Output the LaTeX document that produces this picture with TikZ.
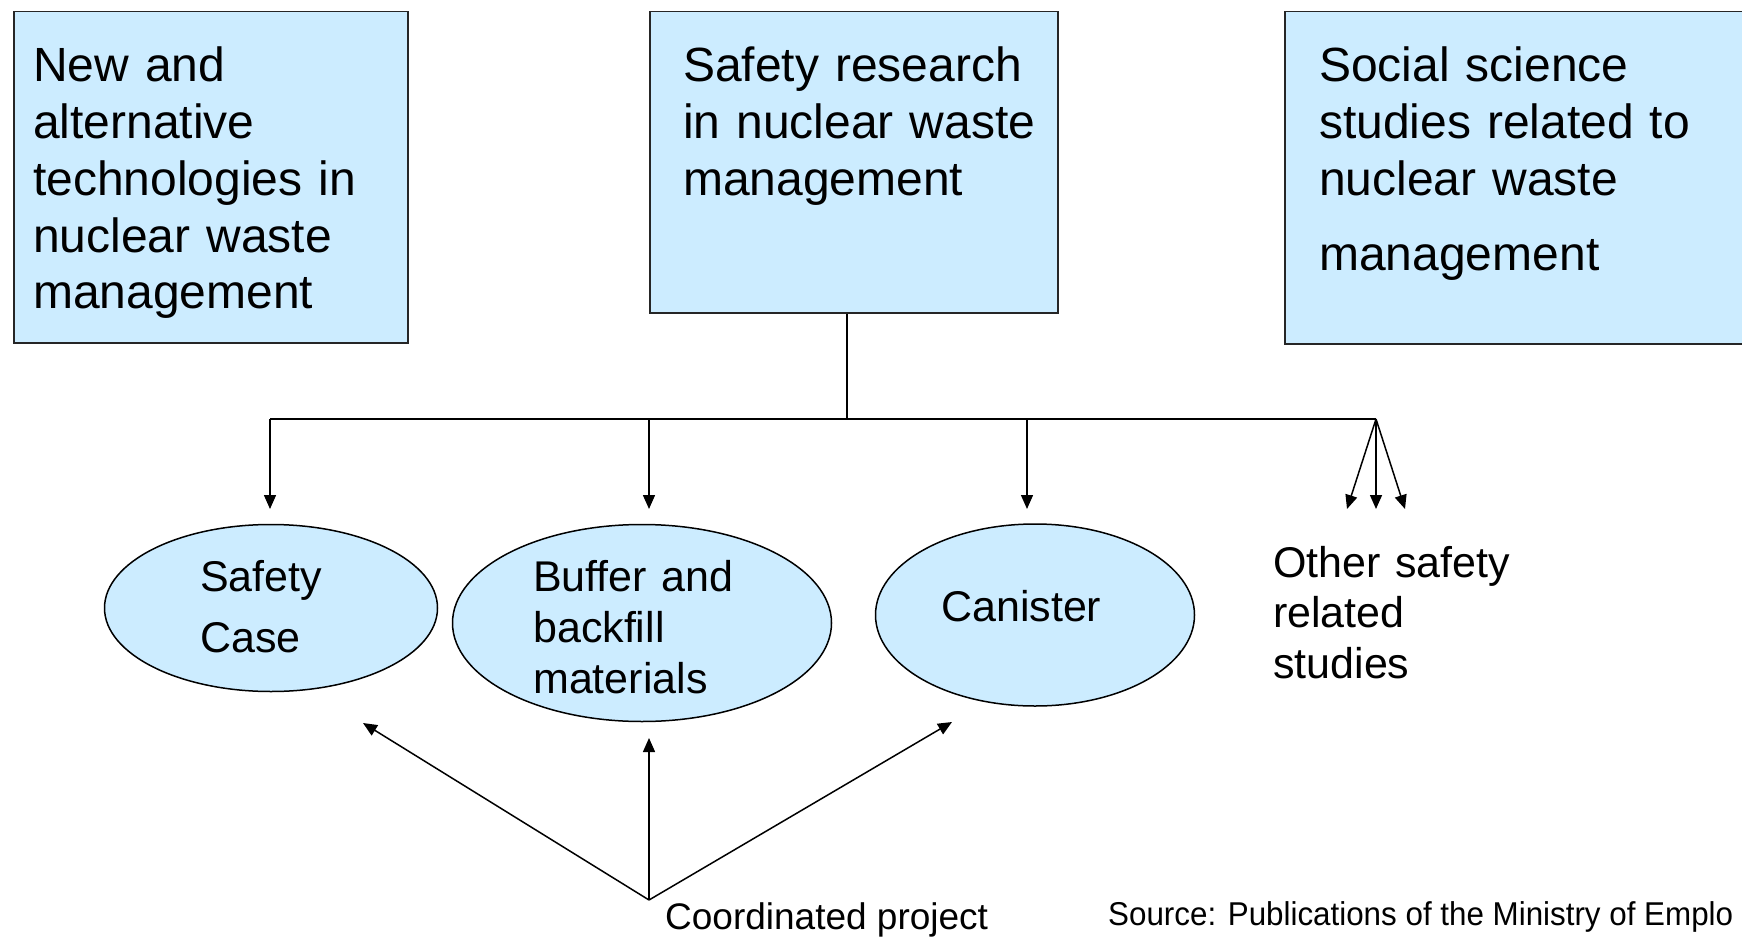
\documentclass[tikz,border=0pt]{standalone}
\usepackage{fontspec}
\setmainfont{Liberation Sans}
\usetikzlibrary{arrows.meta,shapes.geometric}
\definecolor{boxfill}{RGB}{204,236,255}
\begin{document}
\begin{tikzpicture}[x=1pt,y=-1pt,
  box/.style={draw=black!85, line width=1.5pt, fill=boxfill, anchor=north west, inner sep=0pt},
  oval/.style={ellipse, draw=black, line width=1.5pt, fill=boxfill, inner sep=0pt},
  bigtext/.style={anchor=base west, inner sep=0pt, text width=460pt, align=left, font=\fontsize{48}{56.7}\selectfont},
  midtext/.style={anchor=base west, inner sep=0pt, text width=300pt, align=left, font=\fontsize{43}{51}\selectfont},
  conn/.style={line width=1.5pt},
  arr/.style={conn, -{Triangle[length=14pt,width=12pt]}}]
\useasboundingbox (0,0) rectangle (1742,939);
\clip (0,0) rectangle (1742,939);
% boxes
\node[box, minimum width=394pt, minimum height=331pt] (b1) at (13,11) {};
\node[box, minimum width=408pt, minimum height=301pt] (b2) at (649,11) {};
\node[box, minimum width=520pt, minimum height=332pt] (b3) at (1284,11) {};
\node[bigtext] (t1) at (33,82) {New and\\alternative\\technologies in\\nuclear waste\\management};
\node[bigtext] (t2) at (683,82) {Safety research\\in nuclear waste\\management};
\node[bigtext] (t3) at (1319,82) {Social science\\studies related to\\nuclear waste\\[18pt]management};
% ellipses
\node[oval, minimum width=333pt, minimum height=167pt] (sc) at (271,608) {};
\node[oval, minimum width=379pt, minimum height=197pt] (bb) at (642,623) {};
\node[oval, minimum width=319pt, minimum height=182pt] (can) at (1035,615) {};
\node[midtext, font=\fontsize{43}{61}\selectfont] (sct) at (200,591) {Safety\\Case};
\node[midtext] (bbt) at (533,591) {Buffer and\\backfill\\materials};
\node[midtext] (cant) at (941,621) {Canister};
\node[midtext, font=\fontsize{43}{50.5}\selectfont] (oth) at (1273,577) {Other safety\\related\\studies};
% tree connectors
\coordinate (j) at (847,419);
\coordinate (hl) at (270,419);
\coordinate (h2) at (649,419);
\coordinate (h3) at (1027,419);
\coordinate (hr) at (1376,419);
\coordinate (a1) at (270,509);
\coordinate (a2) at (649,509);
\coordinate (a3) at (1027,509);
\coordinate (f1) at (1347,509);
\coordinate (f2) at (1376,509);
\coordinate (f3) at (1405,509);
\draw[conn] (j |- b2.south) -- (j);
\draw[conn] (hl) -- (hr);
\draw[arr] (hl) -- (a1);
\draw[arr] (h2) -- (a2);
\draw[arr] (h3) -- (a3);
\draw[arr] (hr) -- (f1);
\draw[arr] (hr) -- (f2);
\draw[arr] (hr) -- (f3);
% coordinated project
\coordinate (cp) at (649,900);
\coordinate (e1) at (363,723);
\coordinate (e2) at (649,738);
\coordinate (e3) at (952,722);
\draw[arr] (cp) -- (e1);
\draw[arr] (cp) -- (e2);
\draw[arr] (cp) -- (e3);
\node[anchor=base west, inner sep=0pt, font=\fontsize{37}{44}\selectfont] (cpt) at (665,929) {Coordinated project};
\node[anchor=base west, inner sep=0pt, font=\fontsize{33}{40}\selectfont] (src) at (1108,925) {\scalebox{0.95}[1]{Source: Publications of the Ministry of Emplo}};
\end{tikzpicture}
\end{document}
